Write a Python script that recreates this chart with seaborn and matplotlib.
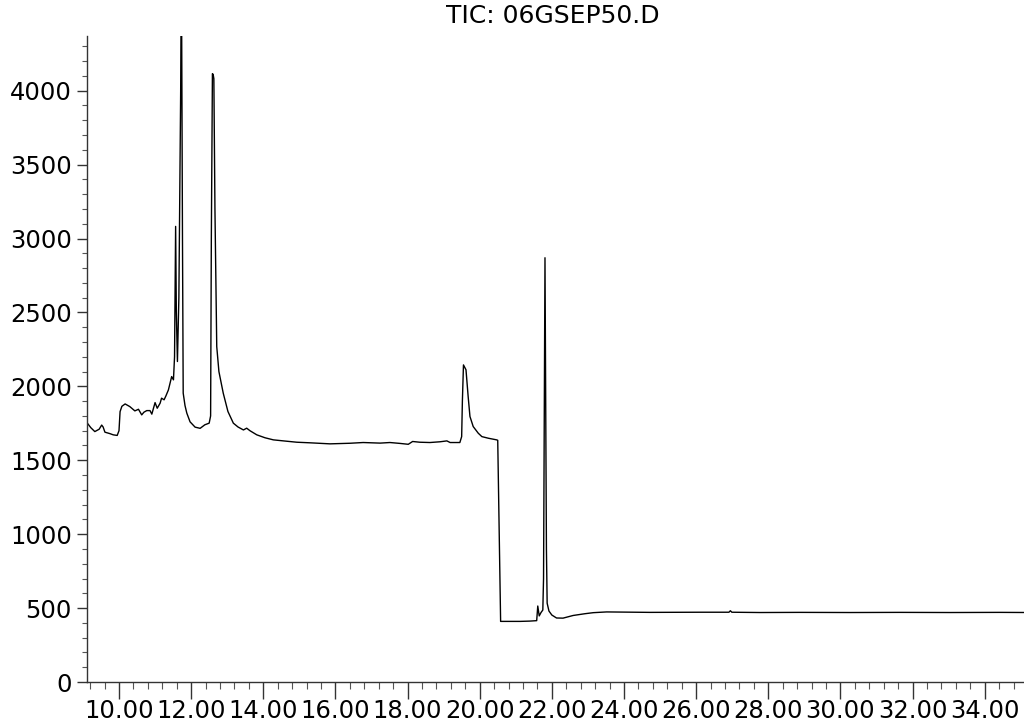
import matplotlib
matplotlib.use("Agg")
import matplotlib.pyplot as plt
from matplotlib.ticker import MultipleLocator, FormatStrFormatter
import seaborn as sns
import pandas as pd

# Retention time (min) and total ion current (abundance)
time_min = [
    9.11, 9.22, 9.33, 9.45, 9.52, 9.56, 9.61, 9.75, 9.84, 9.95,
    10.00, 10.03, 10.08, 10.17, 10.30, 10.44, 10.54, 10.63, 10.69, 10.77,
    10.86, 10.91, 11.00, 11.06, 11.14, 11.18, 11.25, 11.30, 11.37, 11.46,
    11.51, 11.54, 11.57, 11.59, 11.62, 11.66, 11.71, 11.73, 11.76, 11.78,
    11.83, 11.88, 11.97, 12.11, 12.25, 12.38, 12.50, 12.54, 12.56, 12.59,
    12.61, 12.63, 12.66, 12.71, 12.77, 12.89, 13.02, 13.17, 13.30, 13.45,
    13.54, 13.63, 13.82, 14.05, 14.28, 14.60, 14.93, 15.30, 15.85, 16.40,
    16.77, 17.24, 17.51, 17.79, 18.02, 18.14, 18.34, 18.62, 18.90, 19.09,
    19.18, 19.45, 19.50, 19.52, 19.55, 19.62, 19.68, 19.73, 19.82, 19.96,
    20.06, 20.24, 20.47, 20.50, 20.58, 20.84, 21.12, 21.39, 21.58, 21.61,
    21.65, 21.70, 21.75, 21.77, 21.81, 21.85, 21.87, 21.92, 22.00, 22.13,
    22.31, 22.59, 22.92, 23.15, 23.52, 24.72, 26.11, 26.91, 26.95, 26.99,
    27.77, 28.88, 30.27, 31.65, 33.04, 34.42, 35.26,
]
abundance = [
    1755, 1720, 1694, 1710, 1738, 1725, 1690, 1680, 1672, 1668,
    1700, 1829, 1865, 1881, 1863, 1834, 1845, 1807, 1825, 1836,
    1836, 1812, 1890, 1852, 1886, 1920, 1909, 1935, 1976, 2066,
    2044, 2200, 3082, 2500, 2168, 2600, 4000, 4900, 3000, 1954,
    1870, 1819, 1760, 1724, 1716, 1740, 1751, 1800, 3000, 4115,
    4110, 4081, 3200, 2269, 2100, 1954, 1830, 1751, 1725, 1705,
    1717, 1700, 1672, 1652, 1638, 1630, 1622, 1618, 1611, 1615,
    1620, 1616, 1620, 1614, 1608, 1627, 1622, 1620, 1625, 1631,
    1620, 1620, 1660, 1900, 2145, 2112, 1931, 1796, 1728, 1683,
    1660, 1649, 1638, 1635, 410, 410, 410, 412, 415, 514,
    447, 470, 487, 700, 2870, 900, 533, 480, 453, 433,
    432, 450, 462, 469, 474, 471, 472, 472, 482, 472,
    470, 471, 470, 471, 470, 471, 470,
]
x_major_ticks = [10, 12, 14, 16, 18, 20, 22, 24, 26, 28, 30, 32, 34]
y_major_ticks = [0, 500, 1000, 1500, 2000, 2500, 3000, 3500, 4000]
title_text = "TIC: 06GSEP50.D"

df = pd.DataFrame({"time": time_min, "tic": abundance})

sns.set_style("ticks")
plt.rcParams["font.family"] = ["DejaVu Sans"]
plt.rcParams["text.color"] = "black"
plt.rcParams["xtick.labelcolor"] = "black"
plt.rcParams["ytick.labelcolor"] = "black"

fig = plt.figure(figsize=(10.24, 7.21), dpi=100)
ax = fig.add_axes([87 / 1024, 39 / 721, 937 / 1024, 646 / 721])

sns.lineplot(data=df, x="time", y="tic", ax=ax, color="black",
             linewidth=1.0, sort=False, estimator=None)

ax.set_xlim(9.113, 35.09)
ax.set_ylim(0, 4370)
ax.set_xticks(x_major_ticks)
ax.set_yticks(y_major_ticks)
ax.xaxis.set_minor_locator(MultipleLocator(0.4))
ax.yaxis.set_minor_locator(MultipleLocator(100))
ax.xaxis.set_major_formatter(FormatStrFormatter("%.2f"))
ax.set_xlabel("")
ax.set_ylabel("")

for s in ["top", "right"]:
    ax.spines[s].set_visible(False)
for s in ["left", "bottom"]:
    ax.spines[s].set_color("#333333")
    ax.spines[s].set_linewidth(1.0)

ax.tick_params(axis="y", which="major", length=7, width=1, color="#333333",
               labelsize=17.5, pad=4, labelcolor="black")
ax.tick_params(axis="y", which="minor", length=3.5, width=0.8, color="#555555")
ax.tick_params(axis="x", which="major", length=12, width=1, color="#333333",
               labelsize=17.5, pad=0, labelcolor="black")
ax.tick_params(axis="x", which="minor", length=5, width=0.8, color="#555555")

fig.text(553 / 1024, 1 - 16 / 721, title_text, ha="center", va="center",
         fontsize=18, color="black")

fig.savefig("out.png", dpi=100)
